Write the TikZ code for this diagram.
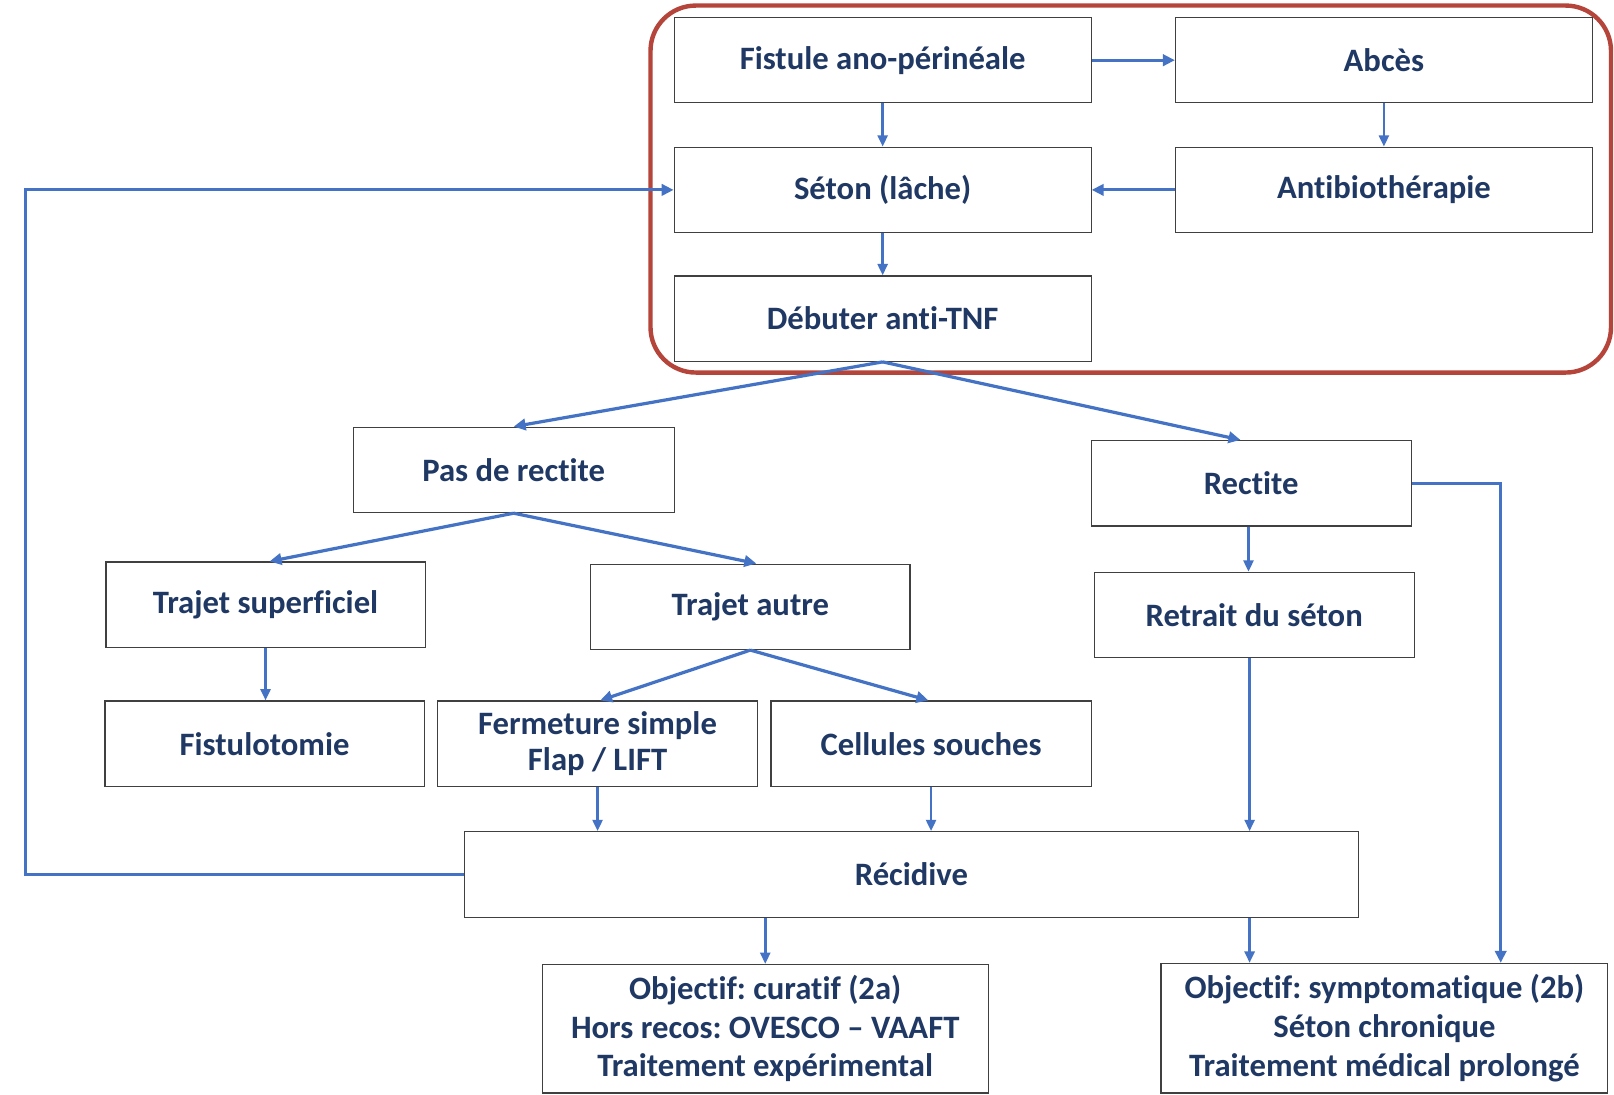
\documentclass[tikz,border=0pt]{standalone}
\usepackage{fontspec}
\setmainfont{Carlito}[Ligatures=NoCommon]
\frenchspacing
\usetikzlibrary{arrows.meta}
\definecolor{navy}{RGB}{31,56,100}
\definecolor{arrowblue}{RGB}{68,114,196}
\definecolor{framered}{RGB}{181,68,58}
\begin{document}
\begin{tikzpicture}[x=0.75pt,y=-0.75pt,
  box/.style args={#1/#2}{draw=black!75, line width=0.9pt, inner sep=0pt,
    minimum width=#1*0.75pt, minimum height=#2*0.75pt, align=center,
    font=\bfseries\fontsize{24.5}{29}\selectfont, text=navy},
  thk/.style={draw=arrowblue, line width=2.4pt, -{Triangle[length=9pt,width=8.5pt]}},
  thn/.style={draw=arrowblue, line width=1.9pt, -{Triangle[length=8.5pt,width=7.5pt]}}]
\useasboundingbox[fill=white] (0,0) rectangle (1614,1095);
% red frame
\node[draw=framered, line width=3.3pt, rounded corners=34pt, inner sep=0pt,
  minimum width=960.5*0.75pt, minimum height=367*0.75pt] (frame) at (1130.75,189.05) {};
% boxes
\node[box=416.9/85.4] (fist) at (882.65,60.2) {Fistule ano-périnéale};
\node[box=416.8/85.4] (abces) at (1383.9,60.2) {Abcès};
\node[box=416.9/85.4] (seton) at (882.65,189.9) {Séton (lâche)};
\node[box=416.8/85.4] (antibio) at (1383.9,189.9) {Antibiothérapie};
\node[box=416.9/85.4] (debut) at (882.65,318.6) {Débuter anti-TNF};
\node[box=321.1/85.4] (pas) at (513.65,469.9) {Pas de rectite};
\node[box=320.1/85.5] (rect) at (1251.15,483.25) {Rectite};
\node[box=319.1/85.4] (tsup) at (265.55,604.7) {Trajet superficiel};
\node[box=319.1/85.4] (taut) at (750.35,606.8) {Trajet autre};
\node[box=320.2/85.4] (retrait) at (1254.2,615) {Retrait du séton};
\node[box=319.1/85.4] (fistulo) at (264.55,743.7) {Fistulotomie};
\node[box=320.1/85.4, font=\bfseries\fontsize{24.5}{27}\selectfont] (ferm) at (597.55,743.7) {Fermeture simple\\Flap / LIFT};
\node[box=320.1/85.4] (cell) at (931.05,743.7) {Cellules souches};
\node[box=894.5/85.4] (recid) at (911.45,874.4) {Récidive};
\node[box=445.7/128.5] (cur) at (765.25,1028.75) {Objectif: curatif (2a)\\Hors recos: OVESCO – VAAFT\\Traitement expérimental};
\node[box=446.8/129.6] (sym) at (1384.4,1028.2) {Objectif: symptomatique (2b)\\Séton chronique\\Traitement médical prolongé};
% helper coordinates
\coordinate (lp) at (25.7,500);
\coordinate (sx) at (1500.7,500);
\coordinate (rx) at (1249.6,640);
% connectors
\draw[thk] (fist.east) -- (abces.west);
\draw[thn] (fist.south) -- (seton.north);
\draw[thn] (abces.south) -- (antibio.north);
\draw[thk] (antibio.west) -- (seton.east);
\draw[thn] (seton.south) -- (debut.north);
\draw[thk] (debut.south) -- (pas.north);
\draw[thk] (debut.south) -- ([xshift=-8pt]rect.north);
\draw[thk] (pas.south) -- ([xshift=3pt]tsup.north);
\draw[thk] (pas.south) -- ([xshift=4.5pt]taut.north);
\draw[thn] (tsup.south) -- (tsup.south |- fistulo.north);
\draw[thk] (taut.south) -- ([xshift=2pt]ferm.north);
\draw[thk] (taut.south) -- ([xshift=-2pt]cell.north);
\draw[thn] ([xshift=-2pt]rect.south) -- ([xshift=-2pt]rect.south |- retrait.north);
\draw[thn] (ferm.south) -- (ferm.south |- recid.north);
\draw[thn] (cell.south) -- (cell.south |- recid.north);
\draw[thn] (rx |- retrait.south) -- (rx |- recid.north);
\draw[thn] (recid.south -| cur.north) -- (cur.north);
\draw[thn] (rx |- recid.south) -- (rx |- sym.north);
\draw[thk] (recid.west) -| (lp) |- (seton.west);
\draw[thk] (rect.east) -| (sx |- sym.north);
\end{tikzpicture}
\end{document}
